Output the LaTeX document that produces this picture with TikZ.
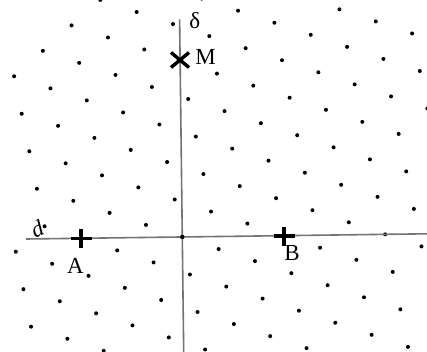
\documentclass[tikz,border=0pt]{standalone}
\usepackage{fontspec}
\setmainfont{Liberation Serif}
\begin{document}
\begin{tikzpicture}[x=1pt,y=-1pt,
  axisline/.style={draw=black!55, line width=1.6pt},
  markline/.style={draw=black, line width=3.4pt},
  lab/.style={font=\fontsize{23}{25}\selectfont, inner sep=0pt}]
\useasboundingbox[fill=white] (0,0) rectangle (427,352);
% lattice of dots
\begin{scope}
\clip (10,34) -- (64,0) -- (427,0) -- (427,352) -- (10,352) -- cycle;
\foreach \m in {-9,...,10}{
  \foreach \n in {-12,...,6}{
    \fill ({182.3+\m*36.34+\n*7.61},{237+\m*12.06+\n*37.5}) circle (2pt);
  }
}
\end{scope}
% lines d and delta
\coordinate (dL) at (26,239.0);
\coordinate (dR) at (427,233.8);
\coordinate (deltaT) at (179.6,19.3);
\coordinate (deltaB) at (183.7,352);
\draw[axisline] (dL) -- (dR);
\draw[axisline] (deltaT) -- (deltaB);
\coordinate (O) at (182.3,237);
\fill (O) circle (2.2pt);
% marked points
\coordinate (A) at (81,238.5);
\coordinate (B) at (284,236);
\coordinate (M) at (180,60);
\draw[markline] (A) +(-10.5,0) -- +(10.5,0) (A) +(0,-9.5) -- +(0,9.5);
\draw[markline] (B) +(-10.5,0) -- +(10.5,0) (B) +(0,-9.5) -- +(0,9.5);
\draw[markline] (M) +(-9,-7.5) -- +(9,7.5) (M) +(-9,7.5) -- +(9,-7.5);
% labels
\node[lab] (labA) at (75.5,265.5) {A};
\node[lab] (labB) at (292,253) {B};
\node[lab] (labM) at (205.5,56.5) {M};
\node[lab] (labdelta) at (194.7,20.5) {δ};
\node[lab, rotate=25] (labd) at (37,229) {\textit{d}};
\end{tikzpicture}
\end{document}
